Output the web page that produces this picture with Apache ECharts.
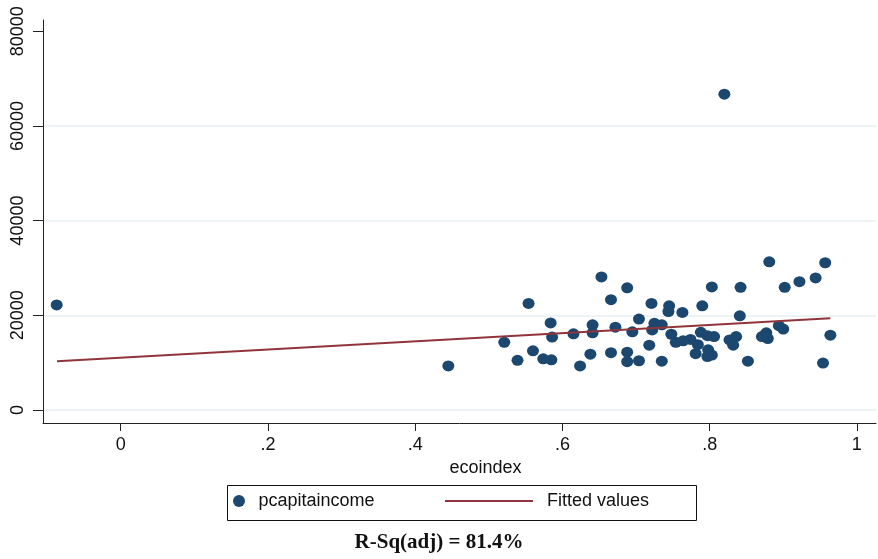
<!DOCTYPE html>
<html>
<head>
<meta charset="utf-8">
<script src="https://cdn.jsdelivr.net/npm/echarts@6/dist/echarts.min.js"></script>
<style>
  html,body{margin:0;padding:0;background:#fff;}
  #chart{width:878px;height:559px;}
</style>
</head>
<body>
<div id="chart"></div>
<script>
// scatter points
const ecoindex = [
  -0.087, 0.445, 0.521, 0.539, 0.554, 0.560, 0.574, 0.585, 0.584, 0.586,
  0.615, 0.624, 0.638, 0.641, 0.641, 0.653, 0.666, 0.666, 0.672, 0.688,
  0.688, 0.688, 0.695, 0.704, 0.704, 0.718, 0.721, 0.722, 0.725, 0.735,
  0.735, 0.745, 0.744, 0.748, 0.754, 0.763, 0.764, 0.774, 0.784, 0.790,
  0.788, 0.797, 0.806, 0.781, 0.798, 0.797, 0.803, 0.803, 0.820, 0.842,
  0.841, 0.827, 0.836, 0.832, 0.852, 0.881, 0.871, 0.877, 0.879, 0.894,
  0.900, 0.902, 0.922, 0.944, 0.957, 0.964, 0.954
];
const pcapitaincome = [
  22200, 9300, 14300, 10500, 22500, 12500, 10800, 10600, 18400, 15400,
  16100, 9300, 11800, 16300, 18000, 28100, 23300, 12100, 17500, 12200,
  10200, 25800, 16500, 19200, 10400, 13700, 22500, 16900, 18300, 18000,
  10300, 22000, 20800, 16000, 14300, 20600, 14600, 14900, 13800, 22000,
  16400, 15700, 15500, 11900, 12700, 11300, 11600, 26000, 66700, 25900,
  19900, 14800, 15500, 13700, 10300, 31300, 15500, 16300, 15100, 17800,
  17100, 25900, 27100, 27900, 31100, 15800, 9900
];
// fitted line end points
const fitX = [-0.0866, 0.964];
const fitY = [10300, 19400];

const xTicks = [0, 0.2, 0.4, 0.6, 0.8, 1];
const xTickLabels = ["0", ".2", ".4", ".6", ".8", "1"];
const yTicks = [0, 20000, 40000, 60000, 80000];

const navy = "#1c4870";
const maroon = "#90353b";
const font = "'Liberation Sans', Arial, sans-serif";

const chart = echarts.init(document.getElementById("chart"), null, {renderer:"canvas"});
chart.setOption({
  animation:false,
  backgroundColor:"#fff",
  grid:{left:43,right:2,top:20,bottom:136,containLabel:false},
  xAxis:{
    type:"value", min:-0.1056, max:1.026,
    name:"ecoindex", nameLocation:"middle", nameGap:36,
    nameTextStyle:{color:"#111",fontFamily:font,fontSize:18,padding:[0,0,0,52]},
    axisLine:{onZero:false,lineStyle:{color:"#222",width:1}},
    axisTick:{customValues:xTicks,length:8,lineStyle:{color:"#222"}},
    axisLabel:{customValues:xTicks,margin:13,color:"#111",fontFamily:font,fontSize:18,
      formatter:v => xTickLabels[xTicks.findIndex(t => Math.abs(t - v) < 1e-6)] ?? ""},
    splitLine:{show:false}
  },
  yAxis:{
    type:"value", min:-2746, max:82368,
    axisLine:{show:true,onZero:false,lineStyle:{color:"#222",width:1}},
    axisTick:{show:true,customValues:yTicks,length:10,lineStyle:{color:"#222"}},
    axisLabel:{customValues:yTicks,rotate:90,margin:16,color:"#111",fontFamily:font,fontSize:18,
      formatter:v => String(Math.round(v))},
    splitLine:{show:true,lineStyle:{color:["#e9f0f3","#e9f0f3","#e9f0f3","#e9f0f3","rgba(0,0,0,0)"],width:1.5}}
  },
  legend:[
    {left:233,top:492,padding:0,itemWidth:13,itemHeight:12,
      textStyle:{color:"#111",fontFamily:font,fontSize:18,padding:[0,0,0,8]},
      data:[{name:"pcapitaincome",icon:"circle"}]},
    {left:445,top:492,padding:0,itemWidth:88,itemHeight:2,
      textStyle:{color:"#111",fontFamily:font,fontSize:18,padding:[0,0,0,9]},
      data:[{name:"Fitted values",icon:"rect"}]}
  ],
  graphic:[
    {type:"rect",left:225,top:483,shape:{width:469,height:35},
      style:{fill:"none",stroke:"#111",lineWidth:1},silent:true},
    {type:"text",left:"center",top:532,
      style:{text:"R-Sq(adj) = 81.4%",x:0,fill:"#111",
        font:"bold 21px 'Liberation Serif', 'Times New Roman', serif"}}
  ],
  series:[
    {name:"pcapitaincome",type:"scatter",symbol:"circle",symbolSize:[12,11],
      itemStyle:{color:navy,opacity:1},
      data:ecoindex.map((x, i) => [x, pcapitaincome[i]])},
    {name:"Fitted values",type:"line",showSymbol:false,symbol:"none",
      lineStyle:{color:maroon,width:2},itemStyle:{color:maroon},
      data:fitX.map((x, i) => [x, fitY[i]])}
  ]
});
</script>
</body>
</html>
